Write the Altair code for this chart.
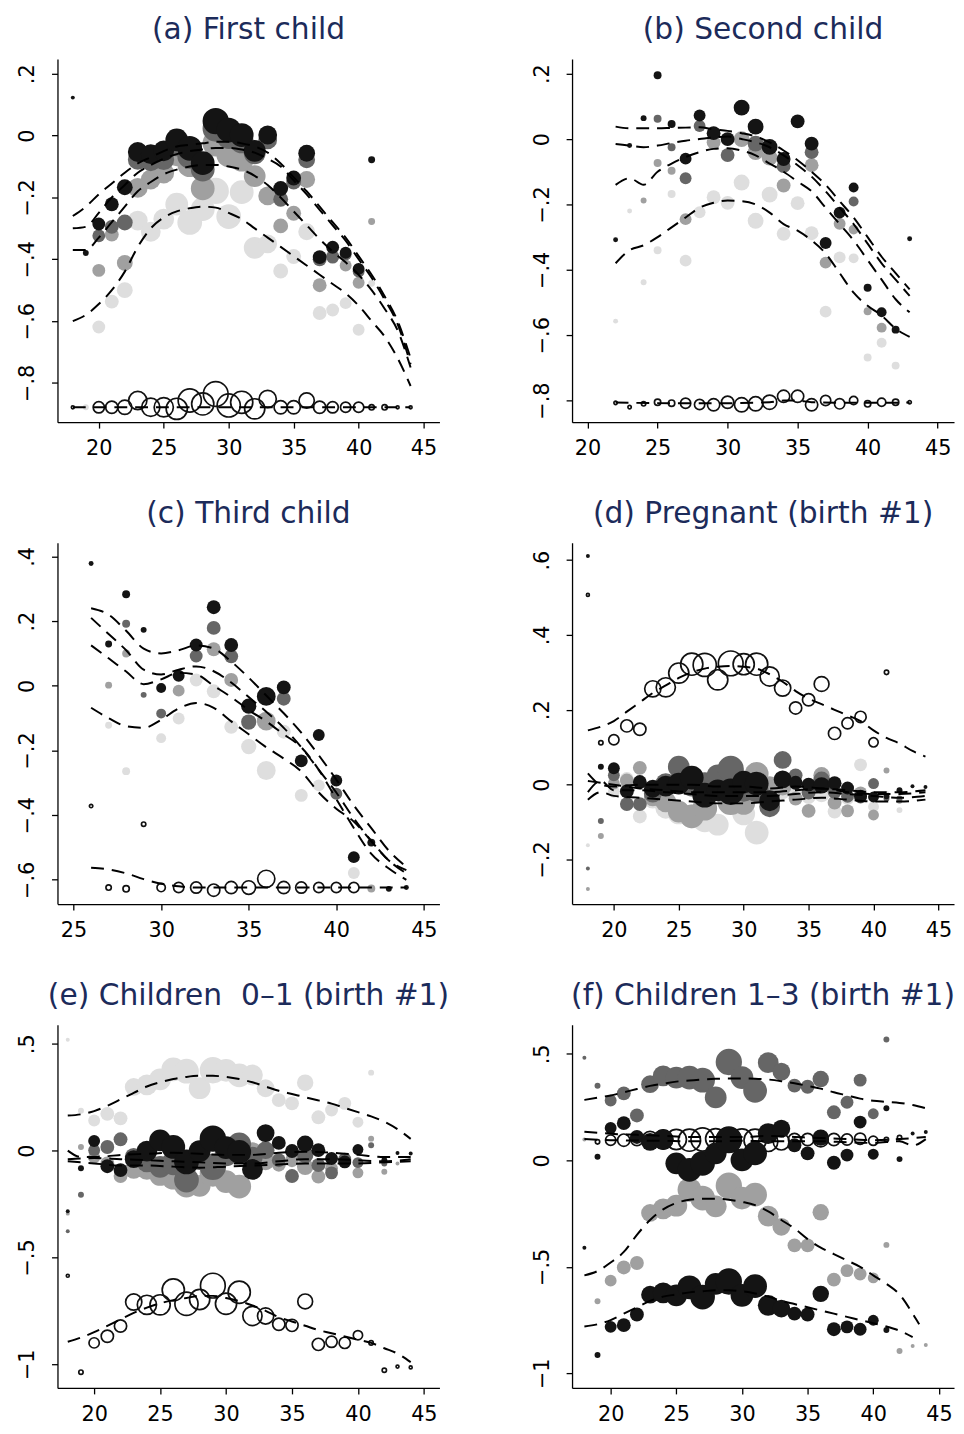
import altair as alt
import pandas as pd

# ---------------- titles ----------------
TITLES = ["(a) First child", "(b) Second child", "(c) Third child",
          "(d) Pregnant (birth #1)", "(e) Children\u00a0 0\u20131 (birth #1)",
          "(f) Children 1\u20133 (birth #1)"]

# ---------------- marker weights (by age; marker radius in px) ----------------
A_W = [(18, 2), (19, 3), (20, 6.5), (21, 7), (22, 8), (23, 10), (24, 10), (25, 10.5), (26, 11.5),
       (27, 12.5), (28, 12), (29, 13.3), (30, 12.5), (31, 12), (32, 11), (33, 9.5), (34, 7.5),
       (35, 7.5), (36, 8.5), (37, 7), (38, 6.5), (39, 6), (40, 6), (41, 3.5), (42, 3.5),
       (43, 2), (44, 2)]
B_W = [(22, 2.5), (23, 2.5), (24, 3), (25, 4), (26, 4), (27, 6), (28, 6), (29, 7), (30, 7),
       (31, 8), (32, 8), (33, 8), (34, 7), (35, 7), (36, 7), (37, 6), (38, 6), (39, 5),
       (40, 4), (41, 5), (42, 4), (43, 2.5)]
C_W = [(26, 2.5), (27, 3.5), (28, 4), (29, 3), (30, 5), (31, 6), (32, 6.5), (33, 7), (34, 7),
       (35, 7.7), (36, 9.5), (37, 7), (38, 6.5), (39, 6), (40, 6), (41, 6), (42, 4), (43, 3),
       (44, 2.5)]
BIRTH1_W = [(18, 2), (19, 3), (20, 6), (21, 7), (22, 7), (23, 9), (24, 10.5), (25, 11), (26, 12),
            (27, 12.5), (28, 11), (29, 13.3), (30, 11.5), (31, 12), (32, 10.5), (33, 9), (34, 7),
            (35, 7), (36, 8.3), (37, 7), (38, 6.5), (39, 6.5), (40, 5.5), (41, 3), (42, 3),
            (43, 2), (44, 2)]

# ---------------- (a) First child ----------------
A_BLACK = [(18, 0.123), (19, -0.38), (20, -0.286), (21, -0.222), (22, -0.167), (23, -0.053),
           (24, -0.06), (25, -0.049), (26, -0.014), (27, -0.041), (28, -0.089), (29, 0.047),
           (30, 0.018), (31, 0.002), (32, -0.049), (33, 0.002), (34, -0.171), (35, -0.137),
           (36, -0.057), (37, -0.393), (38, -0.361), (39, -0.379), (40, -0.431), (41, -0.078)]
A_DARK = [(20, -0.324), (21, -0.295), (22, -0.281), (23, -0.078), (24, -0.083), (25, -0.078),
          (26, -0.03), (27, -0.067), (28, -0.11), (29, 0.023), (30, -0.003), (31, -0.019),
          (32, -0.057), (33, -0.014), (34, -0.206), (35, -0.15), (36, -0.078), (37, -0.40),
          (38, -0.393), (39, -0.385), (40, -0.44)]
A_MID = [(20, -0.436), (21, -0.32), (22, -0.412), (23, -0.169), (24, -0.142), (25, -0.121),
         (26, -0.062), (27, -0.094), (28, -0.171), (29, -0.025), (30, -0.062), (31, -0.078),
         (32, -0.131), (33, -0.195), (34, -0.292), (35, -0.251), (36, -0.142), (37, -0.484),
         (38, -0.39), (39, -0.42), (40, -0.476), (41, -0.278)]
A_LIGHT = [(19, -0.879), (20, -0.619), (21, -0.537), (22, -0.5), (23, -0.275), (24, -0.311),
           (25, -0.27), (26, -0.222), (27, -0.281), (28, -0.238), (29, -0.179), (30, -0.262),
           (31, -0.183), (32, -0.363), (33, -0.35), (34, -0.438), (35, -0.391), (36, -0.311),
           (37, -0.574), (38, -0.564), (39, -0.542), (40, -0.628), (41, -0.478)]
A_HOLLOW = [(18, -0.879), (20, -0.879), (21, -0.879), (22, -0.879), (23, -0.857), (24, -0.879),
            (25, -0.879), (26, -0.884), (27, -0.857), (28, -0.868), (29, -0.836), (30, -0.873),
            (31, -0.863), (32, -0.884), (33, -0.852), (34, -0.879), (35, -0.879), (36, -0.857),
            (37, -0.879), (38, -0.879), (39, -0.879), (40, -0.879), (41, -0.879), (42, -0.879),
            (43, -0.879), (44, -0.879)]
A_L1 = [(18, -0.26), (19, -0.23), (20, -0.19), (21, -0.155), (22, -0.12), (23, -0.09), (24, -0.07),
        (25, -0.05), (26, -0.035), (27, -0.03), (28, -0.025), (29, -0.02), (30, -0.02), (31, -0.025),
        (32, -0.035), (33, -0.055), (34, -0.09), (35, -0.135), (36, -0.18), (37, -0.23), (38, -0.28),
        (39, -0.33), (40, -0.39), (41, -0.45), (42, -0.52), (43, -0.6), (44, -0.72)]
A_L2 = [(18, -0.30), (19, -0.295), (20, -0.25), (21, -0.2), (22, -0.16), (23, -0.12), (24, -0.095),
        (25, -0.075), (26, -0.06), (27, -0.05), (28, -0.045), (29, -0.04), (30, -0.04), (31, -0.045),
        (32, -0.055), (33, -0.075), (34, -0.1), (35, -0.145), (36, -0.19), (37, -0.24), (38, -0.29),
        (39, -0.34), (40, -0.4), (41, -0.46), (42, -0.53), (43, -0.61), (44, -0.74)]
A_L3 = [(18, -0.37), (19, -0.37), (20, -0.33), (21, -0.28), (22, -0.23), (23, -0.18), (24, -0.15),
        (25, -0.125), (26, -0.11), (27, -0.1), (28, -0.095), (29, -0.095), (30, -0.1), (31, -0.11),
        (32, -0.13), (33, -0.16), (34, -0.2), (35, -0.245), (36, -0.29), (37, -0.335), (38, -0.375),
        (39, -0.41), (40, -0.45), (41, -0.5), (42, -0.56), (43, -0.63), (44, -0.75)]
A_L4 = [(18, -0.6), (19, -0.58), (20, -0.545), (21, -0.5), (22, -0.44), (23, -0.36), (24, -0.3),
        (25, -0.265), (26, -0.245), (27, -0.235), (28, -0.23), (29, -0.233), (30, -0.25), (31, -0.27),
        (32, -0.3), (33, -0.33), (34, -0.36), (35, -0.39), (36, -0.42), (37, -0.45), (38, -0.48),
        (39, -0.51), (40, -0.55), (41, -0.6), (42, -0.65), (43, -0.72), (44, -0.81)]
A_LH = [(18, -0.879), (30, -0.879), (44, -0.879)]

# ---------------- (b) Second child ----------------
B_BLACK = [(22, -0.308), (23, -0.02), (24, 0.064), (25, 0.195), (26, 0.046), (27, -0.06),
           (28, 0.072), (29, 0.018), (30, 0.0), (31, 0.096), (32, 0.038), (33, -0.024),
           (34, -0.061), (35, 0.054), (36, -0.014), (37, -0.318), (38, -0.225), (39, -0.148),
           (40, -0.455), (41, -0.53), (42, -0.583), (43, -0.305)]
B_DARK = [(25, 0.062), (26, -0.025), (27, -0.12), (28, 0.04), (30, -0.049), (32, -0.014),
          (34, -0.083), (36, -0.04), (39, -0.191)]
B_MID = [(24, -0.188), (25, -0.073), (26, -0.097), (27, -0.245), (29, -0.01), (31, 0.0),
         (32, -0.04), (33, -0.057), (34, -0.142), (36, -0.08), (37, -0.378), (38, -0.259),
         (39, -0.277), (40, -0.527), (41, -0.577)]
B_LIGHT = [(22, -0.557), (23, -0.22), (24, -0.438), (25, -0.34), (26, -0.168), (27, -0.372),
           (28, -0.224), (29, -0.178), (30, -0.195), (31, -0.133), (32, -0.25), (33, -0.17),
           (34, -0.29), (35, -0.196), (36, -0.288), (37, -0.528), (38, -0.362), (39, -0.365),
           (40, -0.668), (41, -0.623), (42, -0.693)]
B_HOLLOW = [(22, -0.807), (23, -0.82), (24, -0.81), (25, -0.805), (26, -0.808), (27, -0.808),
            (28, -0.812), (29, -0.813), (30, -0.805), (31, -0.813), (32, -0.81), (33, -0.805),
            (34, -0.787), (35, -0.787), (36, -0.813), (37, -0.8), (38, -0.81), (39, -0.8),
            (40, -0.81), (41, -0.805), (42, -0.805), (43, -0.805)]
B_L1 = [(22, 0.038), (23, 0.033), (24, 0.033), (25, 0.033), (26, 0.034), (27, 0.035), (28, 0.036),
        (29, 0.03), (30, 0.025), (31, 0.018), (32, 0.008), (33, -0.01), (34, -0.035), (35, -0.065),
        (36, -0.1), (37, -0.14), (38, -0.19), (39, -0.24), (40, -0.3), (41, -0.36), (42, -0.41),
        (43, -0.46)]
B_L2 = [(22, -0.015), (23, -0.02), (24, -0.025), (25, -0.02), (26, -0.012), (27, -0.005), (28, 0.0),
        (29, 0.005), (30, 0.008), (31, 0.0), (32, -0.01), (33, -0.025), (34, -0.05), (35, -0.08),
        (36, -0.115), (37, -0.16), (38, -0.21), (39, -0.26), (40, -0.32), (41, -0.38), (42, -0.43),
        (43, -0.48)]
B_L3 = [(22, -0.14), (23, -0.12), (24, -0.14), (25, -0.1), (26, -0.075), (27, -0.055), (28, -0.04),
        (29, -0.03), (30, -0.028), (31, -0.035), (32, -0.05), (33, -0.075), (34, -0.1), (35, -0.13),
        (36, -0.16), (37, -0.21), (38, -0.26), (39, -0.31), (40, -0.37), (41, -0.43), (42, -0.49),
        (43, -0.53)]
B_L4 = [(22, -0.38), (23, -0.34), (24, -0.325), (25, -0.3), (26, -0.27), (27, -0.24), (28, -0.21),
        (29, -0.195), (30, -0.188), (31, -0.19), (32, -0.2), (33, -0.225), (34, -0.26), (35, -0.28),
        (36, -0.31), (37, -0.35), (38, -0.41), (39, -0.47), (40, -0.51), (41, -0.54), (42, -0.58),
        (43, -0.605)]
B_LH = [(22, -0.806), (26, -0.808), (30, -0.808), (33, -0.805), (34, -0.8), (35, -0.8),
        (36, -0.805), (40, -0.807), (43, -0.806)]

# ---------------- (c) Third child ----------------
C_BLACK = [(26, 0.378), (27, 0.129), (28, 0.283), (29, 0.173), (30, -0.007), (31, 0.031),
           (32, 0.126), (33, 0.243), (34, 0.126), (35, -0.063), (36, -0.033), (37, -0.005),
           (38, -0.232), (39, -0.152), (40, -0.293), (41, -0.53), (42, -0.485), (43, -0.628),
           (44, -0.624)]
C_DARK = [(28, 0.192), (29, -0.028), (30, -0.086), (32, 0.092), (33, 0.179), (34, 0.091),
          (35, -0.112), (37, -0.04), (40, -0.334)]
C_MID = [(27, 0.002), (28, 0.1), (31, -0.015), (33, 0.113), (34, 0.018), (36, -0.109),
         (42, -0.627)]
C_LIGHT = [(27, -0.122), (28, -0.264), (30, -0.162), (31, -0.101), (32, 0.018), (33, -0.017),
           (34, -0.127), (35, -0.188), (36, -0.262), (37, -0.142), (38, -0.339), (39, -0.308),
           (41, -0.579)]
C_HOLLOW = [(26, -0.372), (27, -0.624), (28, -0.628), (29, -0.428), (30, -0.624), (31, -0.624),
            (32, -0.624), (33, -0.632), (34, -0.624), (35, -0.624), (36, -0.597), (37, -0.624),
            (38, -0.624), (39, -0.624), (40, -0.624), (41, -0.624)]
C_L1 = [(26, 0.24), (27, 0.22), (28, 0.17), (29, 0.115), (30, 0.1), (31, 0.11), (32, 0.125),
        (33, 0.115), (34, 0.075), (35, 0.025), (36, -0.03), (37, -0.085), (38, -0.145), (39, -0.215),
        (40, -0.29), (41, -0.37), (42, -0.44), (43, -0.51), (44, -0.56)]
C_L2 = [(26, 0.21), (27, 0.16), (28, 0.11), (29, 0.05), (30, 0.035), (31, 0.05), (32, 0.06),
        (33, 0.045), (34, 0.01), (35, -0.035), (36, -0.08), (37, -0.13), (38, -0.19), (39, -0.26),
        (40, -0.33), (41, -0.41), (42, -0.48), (43, -0.54), (44, -0.57)]
C_L3 = [(26, 0.125), (27, 0.085), (28, 0.044), (29, 0.005), (30, 0.02), (31, 0.04), (32, 0.035),
        (33, 0.0), (34, -0.035), (35, -0.075), (36, -0.11), (37, -0.15), (38, -0.19), (39, -0.26),
        (40, -0.35), (41, -0.44), (42, -0.52), (43, -0.565), (44, -0.6)]
C_L4 = [(26, -0.068), (27, -0.1), (28, -0.125), (29, -0.13), (30, -0.105), (31, -0.07), (32, -0.053),
        (33, -0.068), (34, -0.11), (35, -0.15), (36, -0.19), (37, -0.225), (38, -0.265), (39, -0.33),
        (40, -0.38), (41, -0.42), (42, -0.48), (43, -0.54), (44, -0.58)]
C_LH = [(26, -0.563), (27, -0.568), (28, -0.58), (29, -0.598), (30, -0.612), (31, -0.62),
        (32, -0.624), (38, -0.624), (44, -0.624)]

# ---------------- (d) Pregnant (birth #1) ----------------
D_BLACK = [(18, 0.611), (19, 0.048), (20, 0.044), (21, -0.018), (22, 0.007), (23, -0.011),
           (24, -0.004), (25, 0.003), (26, 0.019), (27, -0.028), (28, -0.015), (29, -0.019),
           (30, 0.007), (31, 0.003), (32, -0.043), (33, 0.014), (34, 0.005), (35, 0.0),
           (36, -0.002), (37, 0.004), (38, -0.009), (39, -0.031), (40, -0.033), (41, -0.031),
           (42, -0.015), (43, -0.004), (44, -0.006)]
D_DARK = [(18, -0.224), (19, -0.097), (20, 0.025), (21, -0.052), (22, -0.052), (23, -0.024),
          (24, 0.003), (25, 0.048), (26, 0.0), (27, 0.0), (28, 0.025), (29, 0.042), (30, -0.015),
          (31, -0.015), (32, -0.059), (33, 0.066), (34, 0.025), (35, -0.021), (36, 0.013),
          (37, -0.019), (38, -0.031), (39, -0.033), (40, 0.003), (41, -0.037), (42, -0.037)]
D_MID = [(18, -0.279), (19, -0.137), (20, 0.003), (21, 0.011), (22, 0.045), (23, -0.034),
         (24, -0.046), (25, -0.072), (26, -0.085), (27, -0.063), (28, 0.022), (29, -0.046),
         (30, -0.05), (31, 0.029), (32, -0.005), (33, -0.005), (34, -0.037), (35, -0.07),
         (36, 0.025), (37, -0.048), (38, -0.07), (39, -0.022), (40, -0.081), (41, 0.038),
         (42, -0.043)]
D_LIGHT = [(18, -0.162), (20, -0.019), (21, 0.015), (22, -0.085), (23, -0.04), (24, -0.063),
           (25, -0.077), (26, -0.085), (27, -0.094), (28, -0.107), (29, -0.033), (30, -0.078),
           (31, -0.128), (32, -0.01), (33, -0.015), (34, -0.015), (35, -0.033), (36, -0.025),
           (37, -0.072), (38, -0.037), (39, 0.053), (40, -0.059), (41, -0.025), (42, -0.068)]
D_HOLLOW = [(18, 0.507), (19, 0.112), (20, 0.12), (21, 0.157), (22, 0.148), (23, 0.256),
            (24, 0.26), (25, 0.298), (26, 0.322), (27, 0.32), (28, 0.28), (29, 0.324),
            (30, 0.322), (31, 0.322), (32, 0.289), (33, 0.258), (34, 0.205), (35, 0.227),
            (36, 0.269), (37, 0.137), (38, 0.164), (39, 0.181), (40, 0.113), (41, 0.3)]
D_L1 = [(18, 0.03), (19, 0.0), (20, -0.005), (22, 0.0), (24, 0.0), (26, 0.0), (28, -0.005),
        (30, -0.005), (32, -0.01), (34, -0.005), (36, -0.01), (38, -0.015), (40, -0.02),
        (42, -0.02), (44, -0.015)]
D_L2 = [(18, -0.02), (19, 0.01), (20, -0.015), (22, -0.015), (24, -0.02), (26, -0.025),
        (28, -0.03), (30, -0.03), (32, -0.03), (34, -0.025), (36, -0.02), (38, -0.025),
        (40, -0.03), (42, -0.035), (44, -0.03)]
D_L3 = [(18, -0.04), (19, -0.02), (20, -0.03), (22, -0.035), (24, -0.04), (26, -0.045),
        (28, -0.05), (30, -0.05), (32, -0.045), (34, -0.04), (36, -0.035), (38, -0.04),
        (40, -0.045), (42, -0.045), (44, -0.04)]
D_L4 = [(18, 0.01), (20, 0.0), (22, -0.01), (24, -0.015), (26, -0.02), (28, -0.02), (30, -0.02),
        (32, -0.02), (34, -0.015), (36, -0.01), (38, -0.02), (40, -0.025), (42, -0.025),
        (44, -0.02)]
D_LH = [(18, 0.145), (19, 0.155), (20, 0.17), (21, 0.195), (22, 0.22), (23, 0.245), (24, 0.265),
        (25, 0.285), (26, 0.3), (27, 0.31), (28, 0.315), (29, 0.317), (30, 0.315), (31, 0.31),
        (32, 0.295), (33, 0.275), (34, 0.25), (35, 0.23), (36, 0.215), (37, 0.2), (38, 0.185),
        (39, 0.17), (40, 0.145), (41, 0.125), (42, 0.11), (43, 0.09), (44, 0.075)]

# ---------------- (e) Children 0-1 (birth #1) ----------------
E_BLACK = [(18, -0.284), (19, -0.083), (20, 0.045), (21, -0.073), (22, -0.091), (23, -0.04),
           (24, -0.002), (25, 0.048), (26, 0.017), (27, -0.053), (28, -0.002), (29, 0.056),
           (30, 0.014), (31, -0.006), (32, -0.088), (33, 0.082), (34, 0.036), (35, -0.002),
           (36, 0.032), (37, 0.002), (38, -0.037), (39, -0.053), (40, 0.005), (42, -0.045),
           (43, -0.011), (44, -0.014)]
E_DARK = [(18, -0.377), (19, -0.207), (20, 0.002), (21, 0.017), (22, 0.053), (23, -0.029),
          (24, -0.053), (25, -0.076), (26, -0.06), (27, -0.138), (28, -0.04), (29, -0.076),
          (30, -0.02), (31, 0.029), (32, -0.03), (33, 0.002), (34, -0.045), (35, -0.119),
          (36, -0.02), (37, -0.068), (38, -0.104), (39, -0.04), (40, -0.056), (41, 0.025),
          (42, -0.06)]
E_MID = [(18, -0.295), (19, 0.017), (20, -0.032), (21, -0.06), (22, -0.119), (23, -0.09),
         (24, -0.088), (25, -0.114), (26, -0.127), (27, -0.161), (28, -0.165), (29, -0.107),
         (30, -0.145), (31, -0.168), (32, -0.01), (33, -0.05), (34, -0.066), (35, -0.045),
         (36, -0.076), (37, -0.122), (38, -0.084), (39, -0.045), (40, -0.104), (41, 0.056),
         (42, -0.099), (43, -0.06)]
E_LIGHT = [(18, 0.519), (19, 0.187), (20, 0.141), (21, 0.172), (22, 0.151), (23, 0.298),
           (24, 0.308), (25, 0.334), (26, 0.38), (27, 0.372), (28, 0.292), (29, 0.376),
           (30, 0.376), (31, 0.352), (32, 0.354), (33, 0.292), (34, 0.236), (35, 0.221),
           (36, 0.318), (37, 0.156), (38, 0.19), (39, 0.221), (40, 0.133), (41, 0.365)]
E_HOLLOW = [(18, -0.586), (19, -1.037), (20, -0.9), (21, -0.869), (22, -0.821), (23, -0.709),
            (24, -0.722), (25, -0.722), (26, -0.652), (27, -0.717), (28, -0.697), (29, -0.632),
            (30, -0.717), (31, -0.663), (32, -0.774), (33, -0.774), (34, -0.813), (35, -0.818),
            (36, -0.706), (37, -0.907), (38, -0.895), (39, -0.9), (40, -0.864), (41, -0.9),
            (42, -1.028), (43, -1.011), (44, -1.015)]
E_L1 = [(18, 0.0), (19, -0.03), (20, -0.03), (22, -0.02), (24, -0.015), (26, -0.01), (28, -0.015),
        (30, -0.02), (32, -0.02), (34, -0.01), (36, -0.005), (38, -0.01), (40, -0.02), (42, -0.03),
        (44, -0.03)]
E_L2 = [(18, -0.04), (20, -0.035), (22, -0.04), (24, -0.045), (26, -0.05), (28, -0.055),
        (30, -0.06), (32, -0.06), (34, -0.05), (36, -0.04), (38, -0.04), (40, -0.045), (42, -0.05),
        (44, -0.04)]
E_L3 = [(18, -0.05), (20, -0.06), (22, -0.07), (24, -0.07), (26, -0.075), (28, -0.08), (30, -0.075),
        (32, -0.07), (34, -0.065), (36, -0.06), (38, -0.06), (40, -0.06), (42, -0.055), (44, -0.05)]
E_L4 = [(18, 0.164), (19, 0.17), (20, 0.185), (21, 0.21), (22, 0.24), (23, 0.27), (24, 0.3),
        (25, 0.32), (26, 0.335), (27, 0.345), (28, 0.35), (29, 0.35), (30, 0.345), (31, 0.335),
        (32, 0.32), (33, 0.3), (34, 0.28), (35, 0.265), (36, 0.25), (37, 0.235), (38, 0.22),
        (39, 0.2), (40, 0.18), (41, 0.16), (42, 0.135), (43, 0.1), (44, 0.055)]
E_LH = [(18, -0.895), (19, -0.875), (20, -0.85), (21, -0.82), (22, -0.79), (23, -0.76), (24, -0.735),
        (25, -0.715), (26, -0.7), (27, -0.69), (28, -0.68), (29, -0.68), (30, -0.69), (31, -0.705),
        (32, -0.725), (33, -0.75), (34, -0.78), (35, -0.8), (36, -0.82), (37, -0.84), (38, -0.855),
        (39, -0.87), (40, -0.885), (41, -0.9), (42, -0.925), (43, -0.95), (44, -0.99)]

# ---------------- (f) Children 1-3 (birth #1) ----------------
F_DARK = [(18, 0.482), (19, 0.351), (20, 0.281), (21, 0.315), (22, 0.211), (23, 0.358),
          (24, 0.397), (25, 0.389), (26, 0.389), (27, 0.377), (28, 0.296), (29, 0.462),
          (30, 0.389), (31, 0.327), (32, 0.459), (33, 0.417), (34, 0.351), (35, 0.346),
          (36, 0.382), (37, 0.226), (38, 0.273), (39, 0.377), (40, 0.219), (41, 0.568)]
F_BLACK = [(19, 0.017), (20, 0.152), (21, 0.175), (22, 0.11), (23, 0.087), (24, 0.098),
           (25, -0.014), (26, -0.045), (27, -0.014), (28, 0.033), (29, 0.095), (30, 0.002),
           (31, 0.033), (32, 0.126), (33, 0.149), (34, 0.071), (35, 0.033), (36, 0.107),
           (37, -0.011), (38, 0.025), (39, 0.18), (40, 0.029), (41, 0.245), (42, 0.006),
           (43, 0.126), (44, 0.133)]
F_MID = [(18, 0.098), (19, -0.662), (20, -0.565), (21, -0.503), (22, -0.482), (23, -0.247),
         (24, -0.228), (25, -0.213), (26, -0.138), (27, -0.177), (28, -0.216), (29, -0.119),
         (30, -0.177), (31, -0.161), (32, -0.262), (33, -0.312), (34, -0.399), (35, -0.399),
         (36, -0.244), (37, -0.56), (38, -0.518), (39, -0.534), (40, -0.552), (41, -0.397),
         (42, -0.895), (43, -0.872), (44, -0.867)]
F_BLACK2 = [(18, -0.41), (19, -0.914), (20, -0.782), (21, -0.774), (22, -0.724), (23, -0.631),
            (24, -0.622), (25, -0.634), (26, -0.596), (27, -0.642), (28, -0.58), (29, -0.569),
            (30, -0.634), (31, -0.591), (32, -0.681), (33, -0.696), (34, -0.72), (35, -0.724),
            (36, -0.627), (37, -0.793), (38, -0.782), (39, -0.793), (40, -0.751), (41, -0.797)]
F_HOLLOW = [(19, 0.087), (20, 0.095), (21, 0.095), (22, 0.098), (23, 0.098), (24, 0.098),
            (25, 0.098), (26, 0.095), (27, 0.098), (28, 0.102), (29, 0.098), (30, 0.098),
            (31, 0.095), (32, 0.087), (33, 0.087), (34, 0.098), (35, 0.098), (36, 0.098),
            (37, 0.098), (38, 0.098), (39, 0.102), (40, 0.092), (41, 0.098), (42, 0.107)]
F_L1 = [(18, 0.284), (19, 0.295), (20, 0.305), (21, 0.32), (22, 0.335), (23, 0.35), (24, 0.36),
        (25, 0.37), (26, 0.375), (27, 0.38), (28, 0.383), (29, 0.385), (30, 0.385), (31, 0.384),
        (32, 0.38), (33, 0.372), (34, 0.362), (35, 0.35), (36, 0.337), (37, 0.32), (38, 0.305),
        (39, 0.29), (40, 0.28), (41, 0.275), (42, 0.27), (43, 0.26), (44, 0.245)]
F_L2 = [(18, 0.135), (19, 0.13), (20, 0.125), (22, 0.12), (24, 0.115), (26, 0.11), (28, 0.11),
        (30, 0.11), (32, 0.115), (34, 0.11), (36, 0.105), (38, 0.1), (40, 0.095), (42, 0.1),
        (44, 0.11)]
F_L3 = [(18, -0.54), (19, -0.52), (20, -0.48), (21, -0.43), (22, -0.35), (23, -0.28), (24, -0.23),
        (25, -0.2), (26, -0.185), (27, -0.18), (28, -0.18), (29, -0.185), (30, -0.195), (31, -0.21),
        (32, -0.24), (33, -0.28), (34, -0.32), (35, -0.37), (36, -0.41), (37, -0.44), (38, -0.47),
        (39, -0.5), (40, -0.54), (41, -0.58), (42, -0.63), (43, -0.72), (43.5, -0.77)]
F_L4 = [(18, -0.78), (19, -0.77), (20, -0.75), (21, -0.72), (22, -0.69), (23, -0.66), (24, -0.64),
        (25, -0.63), (26, -0.62), (27, -0.615), (28, -0.61), (29, -0.61), (30, -0.615), (31, -0.625),
        (32, -0.64), (33, -0.66), (34, -0.675), (35, -0.69), (36, -0.705), (37, -0.72), (38, -0.735),
        (39, -0.75), (40, -0.765), (41, -0.78), (42, -0.8), (43, -0.83)]
F_LH = [(18, 0.1), (20, 0.095), (22, 0.093), (24, 0.092), (26, 0.09), (28, 0.09), (30, 0.092),
        (32, 0.09), (34, 0.09), (36, 0.09), (38, 0.085), (40, 0.082), (42, 0.09), (43, 0.07),
        (44, 0.1)]

# ---------------- styling ----------------
SERIES_ORDER = ["light", "mid", "dark", "black", "black2"]
SERIES_COLORS = ["#dedede", "#a0a0a0", "#666666", "#141414", "#141414"]
TITLE_COLOR = "#1c2b5a"
FONT = "DejaVu Sans"

YLABEL = ("datum.value == 0 ? '0' : (datum.value < 0 ? '\u2212' : '') + "
          "replace(format(abs(datum.value), '.1~f'), '0.', '.')")


def sym_size(r):
    # vega circle symbol: radius = sqrt(size) / 2
    return 4.0 * r * r


def panel(title, weights, filled, hollow, lines, xdom, ydom, xticks, yticks, height):
    wmap = dict(weights)
    rows = []
    for key in SERIES_ORDER:
        for age, val in filled.get(key, []):
            rows.append({"age": age, "y": val, "sz": sym_size(wmap.get(age, 2)), "s": key})
    pts = pd.DataFrame(rows)
    hol = pd.DataFrame([{"age": a, "y": v, "sz": sym_size(max(wmap.get(a, 2) - 0.8, 1.5))}
                        for a, v in hollow])
    lrows = []
    for i, ln in enumerate(lines):
        for a, v in ln:
            lrows.append({"age": a, "y": v, "s": "L%d" % i})
    ldf = pd.DataFrame(lrows)

    xax = alt.Axis(values=xticks, title=None, grid=False, tickSize=6, tickWidth=1.3,
                   domainWidth=1.3, domainColor="black", tickColor="black",
                   labelFont=FONT, labelFontSize=21, labelColor="black", labelPadding=10,
                   format="d", labelFlush=False)
    yax = alt.Axis(values=yticks, title=None, grid=False, tickSize=6, tickWidth=1.3,
                   domainWidth=1.3, domainColor="black", tickColor="black",
                   labelFont=FONT, labelFontSize=21, labelColor="black", labelPadding=18,
                   labelAngle=270, labelAlign="center", labelBaseline="alphabetic",
                   labelExpr=YLABEL, labelFlush=False)
    X = alt.X("age:Q", scale=alt.Scale(domain=xdom, nice=False, zero=False), axis=xax)
    Y = alt.Y("y:Q", scale=alt.Scale(domain=ydom, nice=False, zero=False), axis=yax)
    S = alt.Size("sz:Q", scale=None, legend=None)

    hollow_layer = alt.Chart(hol).mark_point(filled=False, shape="circle", opacity=1,
                                             color="#111111", strokeWidth=1.7).encode(
        x=X, y=Y, size=S)
    fill_layer = alt.Chart(pts).mark_point(filled=True, shape="circle", opacity=1,
                                           strokeWidth=0).encode(
        x=X, y=Y, size=S,
        color=alt.Color("s:N", scale=alt.Scale(domain=SERIES_ORDER, range=SERIES_COLORS),
                        legend=None))
    line_layer = alt.Chart(ldf).mark_line(color="black", strokeDash=[13, 8], strokeWidth=2,
                                          interpolate="monotone").encode(
        x=X, y=Y, detail="s:N")
    return alt.layer(hollow_layer, fill_layer, line_layer).properties(
        width=386, height=height,
        title=alt.TitleParams(text=title, font=FONT, fontSize=30, fontWeight="normal",
                              color=TITLE_COLOR, offset=14, anchor="middle"))


Y_A = [-0.8, -0.6, -0.4, -0.2, 0, 0.2]
Y_C = [-0.6, -0.4, -0.2, 0, 0.2, 0.4]
Y_D = [-0.2, 0, 0.2, 0.4, 0.6]
Y_E = [-1, -0.5, 0, 0.5]
X_STD = [20, 25, 30, 35, 40, 45]
X_C = [25, 30, 35, 40, 45]

pa = panel(TITLES[0], A_W, {"light": A_LIGHT, "mid": A_MID, "dark": A_DARK, "black": A_BLACK},
           A_HOLLOW, [A_L1, A_L2, A_L3, A_L4, A_LH], [16.82, 46.22], [-0.927, 0.248],
           X_STD, Y_A, 367)
pb = panel(TITLES[1], B_W, {"light": B_LIGHT, "mid": B_MID, "dark": B_DARK, "black": B_BLACK},
           B_HOLLOW, [B_L1, B_L2, B_L3, B_L4, B_LH], [18.89, 46.17], [-0.866, 0.245],
           X_STD, Y_A, 367)
pc = panel(TITLES[2], C_W, {"light": C_LIGHT, "mid": C_MID, "dark": C_DARK, "black": C_BLACK},
           C_HOLLOW, [C_L1, C_L2, C_L3, C_L4, C_LH], [24.08, 45.89], [-0.675, 0.442],
           X_C, Y_C, 365)
pd_ = panel(TITLES[3], BIRTH1_W, {"light": D_LIGHT, "mid": D_MID, "dark": D_DARK, "black": D_BLACK},
            D_HOLLOW, [D_L1, D_L2, D_L3, D_L4, D_LH], [16.78, 46.2], [-0.319, 0.646],
            X_STD, Y_D, 365)
pe = panel(TITLES[4], BIRTH1_W, {"light": E_LIGHT, "mid": E_MID, "dark": E_DARK, "black": E_BLACK},
           E_HOLLOW, [E_L1, E_L2, E_L3, E_L4, E_LH], [17.22, 46.18], [-1.111, 0.589],
           X_STD, Y_E, 367)
pf = panel(TITLES[5], BIRTH1_W, {"mid": F_MID, "dark": F_DARK, "black": F_BLACK, "black2": F_BLACK2},
           F_HOLLOW, [F_L1, F_L2, F_L3, F_L4, F_LH], [17.06, 46.15], [-1.069, 0.637],
           X_STD, Y_E, 367)

chart = alt.concat(pa, pb, pc, pd_, pe, pf, columns=2, bounds="flush",
                   spacing={"row": 122, "column": 134}).properties(
    padding={"left": 8, "top": 0, "right": 0, "bottom": 0}
).configure_view(stroke=None)

chart.save("out.html", embed_options={"renderer": "svg", "actions": False})
